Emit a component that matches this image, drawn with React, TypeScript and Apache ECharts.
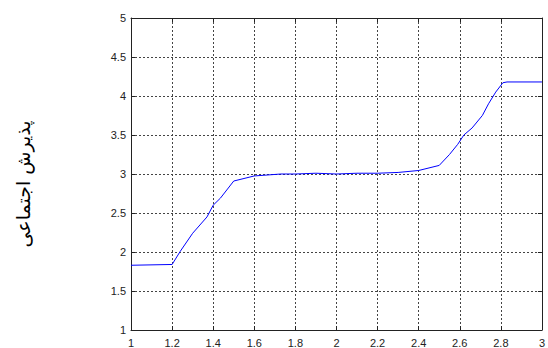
import React, { useEffect, useRef } from "react";
import * as echarts from "echarts";

const xValues = [1, 1.2, 1.24, 1.3, 1.37, 1.4, 1.435, 1.5, 1.6, 1.73, 1.8, 1.9, 2.0, 2.1, 2.2, 2.3, 2.4, 2.5, 2.55, 2.59, 2.62, 2.66, 2.71, 2.74, 2.775, 2.81, 2.83, 3.0];
const yValues = [1.83, 1.84, 2.01, 2.24, 2.45, 2.6, 2.69, 2.91, 2.975, 3.0, 3.0, 3.01, 3.0, 3.01, 3.01, 3.02, 3.045, 3.11, 3.25, 3.38, 3.5, 3.59, 3.75, 3.9, 4.05, 4.17, 4.18, 4.18];
const yAxisTitle = "پذیرش اجتماعی";

const fmt = (v: number) => String(+v.toFixed(1));

export default function App() {
  const ref = useRef<HTMLDivElement>(null);
  useEffect(() => {
    if (!ref.current) return;
    const chart = echarts.init(ref.current, null, { renderer: "svg" });
    const gridLine = { show: true, lineStyle: { color: "#444", type: [2, 2] as any, width: 1 } };
    const axisLine = { show: true, onZero: false, lineStyle: { color: "#222", width: 1 } };
    const label = { color: "#222", fontSize: 11, fontFamily: "Liberation Sans, Arial, sans-serif" };
    chart.setOption({
      animation: false,
      grid: { left: 131, right: 3, top: 18, bottom: 13, containLabel: false },
      xAxis: [
        {
          type: "value", min: 1, max: 3, interval: 0.2,
          axisLine, axisTick: { show: true, inside: true, length: 4, lineStyle: { color: "#222" } },
          axisLabel: { ...label, margin: 7, formatter: fmt, showMaxLabel: true, showMinLabel: true },
          splitLine: gridLine,
        },
        {
          type: "value", min: 1, max: 3, interval: 0.2, position: "top",
          axisLine, axisTick: { show: true, inside: true, length: 4, lineStyle: { color: "#222" } },
          axisLabel: { show: false }, splitLine: { show: false },
        },
      ],
      yAxis: [
        {
          type: "value", min: 1, max: 5, interval: 0.5,
          axisLine, axisTick: { show: true, inside: true, length: 4, lineStyle: { color: "#222" } },
          axisLabel: { ...label, margin: 5, formatter: fmt },
          splitLine: gridLine,
        },
        {
          type: "value", min: 1, max: 5, interval: 0.5, position: "right",
          axisLine, axisTick: { show: true, inside: true, length: 4, lineStyle: { color: "#222" } },
          axisLabel: { show: false }, splitLine: { show: false },
        },
      ],
      graphic: [
        {
          type: "text",
          x: 23,
          y: 184,
          rotation: Math.PI / 2,
          style: {
            text: yAxisTitle,
            fontSize: 19,
            fontFamily: "DejaVu Sans",
            fill: "#000",
            align: "center",
            verticalAlign: "middle",
          },
        },
      ],
      series: [
        {
          type: "line",
          data: xValues.map((x, i) => [x, yValues[i]]),
          showSymbol: false,
          lineStyle: { color: "#0000ff", width: 1 },
          silent: true,
        },
      ],
    });
    return () => chart.dispose();
  }, []);
  return <div ref={ref} style={{ width: 548, height: 348, position: "absolute", left: 0, top: 0, background: "#fff" }} />;
}
